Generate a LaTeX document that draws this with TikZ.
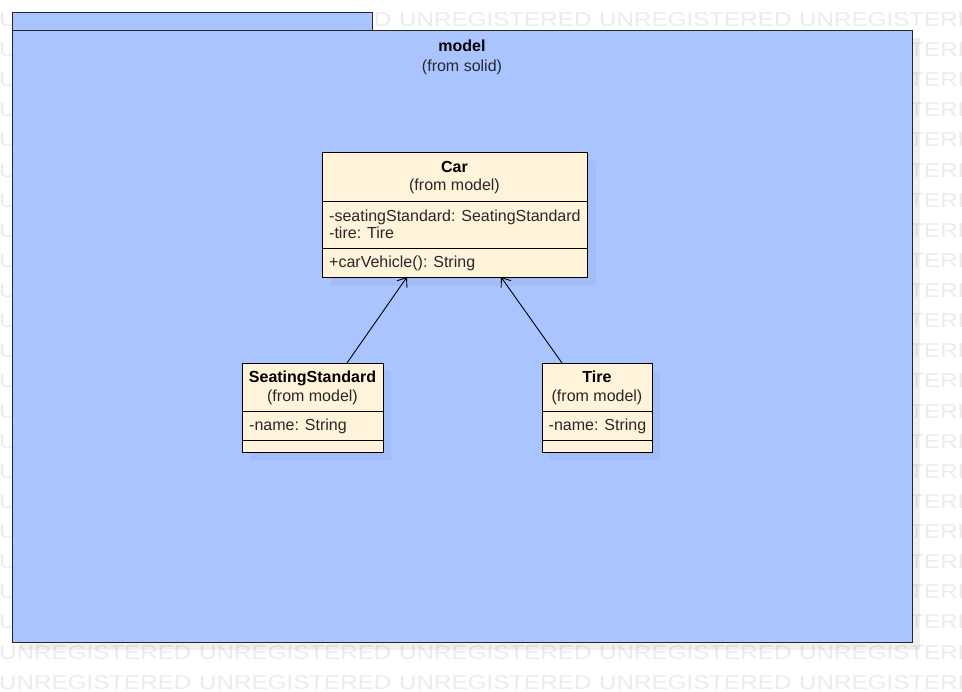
\documentclass[tikz,border=0pt]{standalone}
\usepackage{fontspec}
\setmainfont{Liberation Sans}
\newfontfamily\wmfont[FakeStretch=1.21]{Liberation Sans}
\usetikzlibrary{arrows.meta}
\definecolor{pkgblue}{RGB}{170,196,255}
\definecolor{clsfill}{RGB}{255,243,217}
\definecolor{wmgray}{RGB}{236,236,236}
\definecolor{txtgray}{RGB}{40,40,40}
\tikzset{
  wmtext/.style={inner sep=0pt, anchor=west, text=wmgray, font=\wmfont\fontsize{20}{20}\selectfont},
  pkgbox/.style={draw=black!85, line width=1pt, fill=pkgblue, inner sep=0pt, anchor=north west},
  clsbox/.style={draw=black, line width=1pt, fill=clsfill, inner sep=0pt, anchor=north west},
  shadowbox/.style={fill=black, fill opacity=0.06, draw=none},
  clsshadow/.style={fill=black, fill opacity=0.035, draw=none},
  sep/.style={draw=black, line width=1pt},
  ttl/.style={inner sep=0pt, anchor=base, font=\bfseries\fontsize{16}{19}\selectfont, text=black},
  sub/.style={inner sep=0pt, anchor=base, font=\fontsize{16}{19}\selectfont, text=txtgray},
  member/.style={inner sep=0pt, anchor=base west, font=\fontsize{16}{19}\selectfont, text=txtgray},
  dep/.style={draw=black, line width=0.9pt, -{Straight Barb[length=8pt,width=12pt]}}
}
\begin{document}
\begin{tikzpicture}[x=1pt,y=-1pt]
\useasboundingbox (0,0) rectangle (962,692);
\fill[white] (0,0) rectangle (962,692);
% watermark
\begin{scope}
\clip (0,0) rectangle (962,692);
\foreach \r in {0,...,22}{
  \foreach \c in {0,...,4}{
    \node[wmtext] (wm-\r-\c) at (\c*200-1, 19.5+\r*30.13) {UNREGISTERED};
  }
}
\end{scope}
% package
\fill[shadowbox] (20,38) rectangle (920,650);
\node[pkgbox, minimum width=360pt, minimum height=18pt] (tab) at (12,12) {};
\node[pkgbox, minimum width=900pt, minimum height=612pt] (pkg) at (12,30) {};
\node[ttl] (pkgname) at (462,52) {model};
\node[sub] (pkgfrom) at (462,72) {(from solid)};
% Car
\fill[clsshadow] (331,161) rectangle (596,286);
\node[clsbox, minimum width=265pt, minimum height=125pt] (car) at (322,152) {};
\draw[sep] (322,202) -- (587,202);
\draw[sep] (322,249) -- (587,249);
\node[ttl] (carname) at (454.5,173) {Car};
\node[sub] (carfrom) at (454.5,191) {(from model)};
\node[member] (carattr1) at (329,222) {-seatingStandard: SeatingStandard};
\node[member] (carattr2) at (329,239) {-tire: Tire};
\node[member] (carop1) at (329,268) {+carVehicle(): String};
% SeatingStandard
\fill[clsshadow] (250,371) rectangle (391,460);
\node[clsbox, minimum width=141pt, minimum height=89pt] (ss) at (242,363) {};
\draw[sep] (242,412) -- (383,412);
\draw[sep] (242,441) -- (383,441);
\node[ttl] (ssname) at (312.5,383) {SeatingStandard};
\node[sub] (ssfrom) at (312.5,402) {(from model)};
\node[member] (ssattr1) at (249,431) {-name: String};
% Tire
\fill[clsshadow] (550,371) rectangle (660,460);
\node[clsbox, minimum width=110pt, minimum height=89pt] (tire) at (542,363) {};
\draw[sep] (542,412) -- (652,412);
\draw[sep] (542,441) -- (652,441);
\node[ttl] (tirename) at (597,383) {Tire};
\node[sub] (tirefrom) at (597,402) {(from model)};
\node[member] (tireattr1) at (548.5,431) {-name: String};
% connectors
\coordinate (ssTop) at (347,363);
\coordinate (carIn1) at (407,277);
\coordinate (tireTop) at (562,363);
\coordinate (carIn2) at (501,277);
\draw[dep] (ssTop) -- (carIn1);
\draw[dep] (tireTop) -- (carIn2);
\end{tikzpicture}
\end{document}
